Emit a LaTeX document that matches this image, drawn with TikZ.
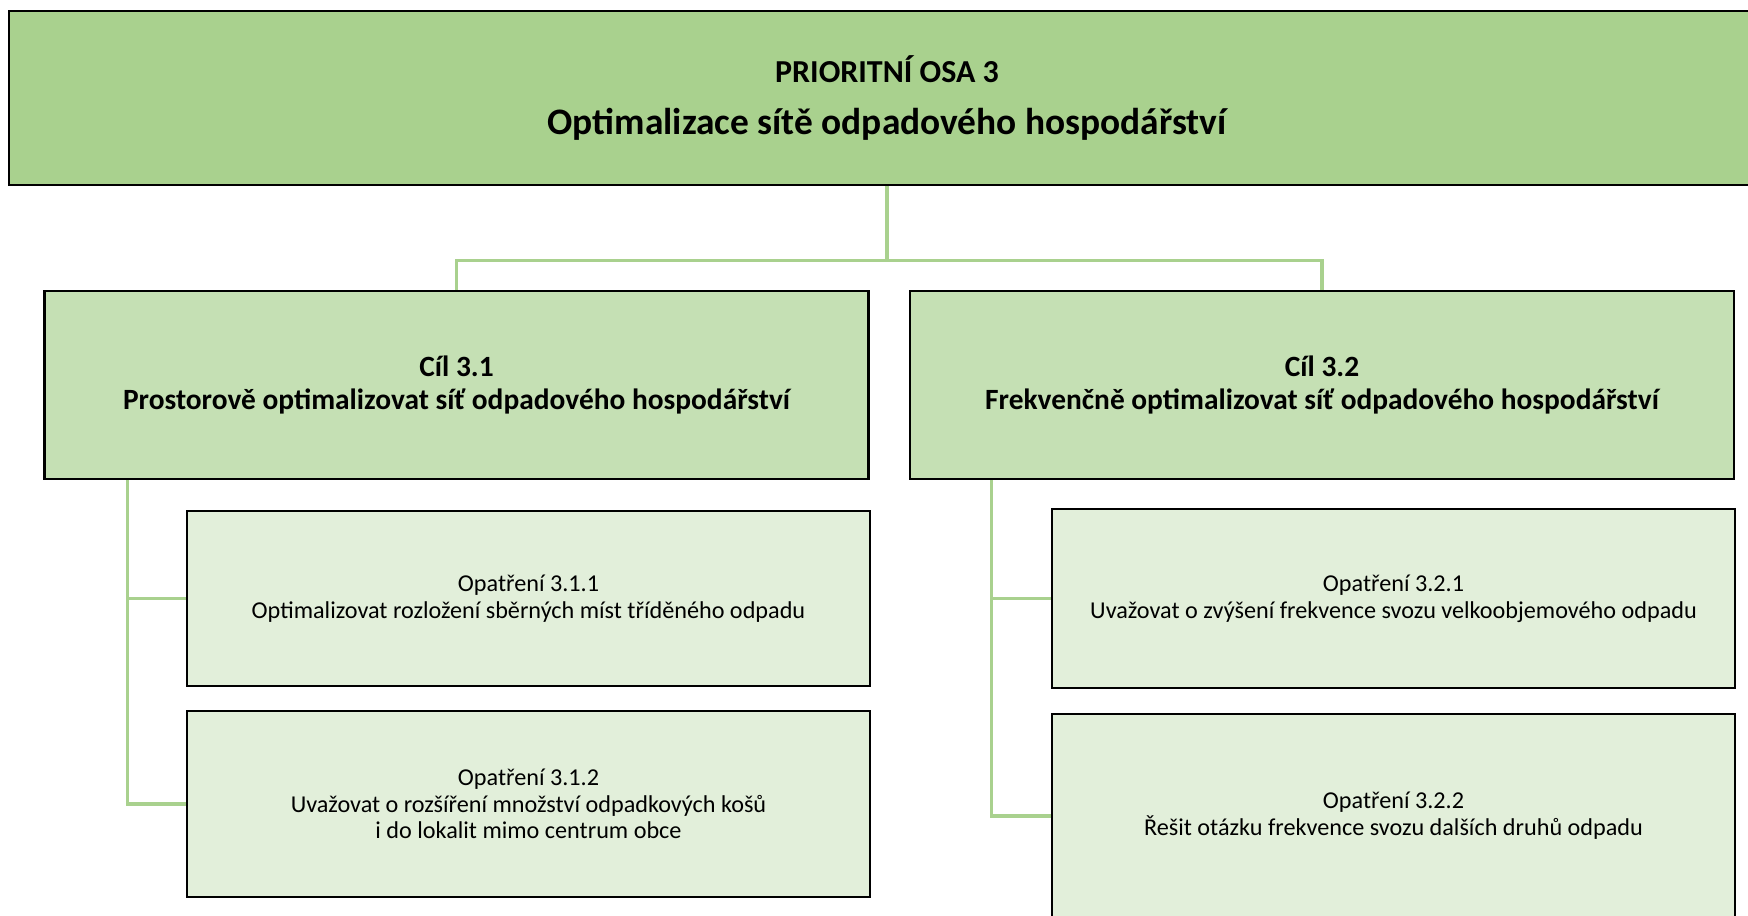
\documentclass[tikz,border=0pt]{standalone}
\usepackage{fontspec}
\setmainfont{Carlito}
\usepackage{xcolor}
\usepackage{tikz}
\usetikzlibrary{positioning}

\definecolor{osagreen}{HTML}{A9D18E}
\definecolor{cilgreen}{HTML}{C5E0B4}
\definecolor{opgreen}{HTML}{E2EFDA}

\begin{document}
\begin{tikzpicture}[
  x=0.5pt, y=-0.5pt,
  frame/.style={rectangle, draw=black, line width=1.4pt, align=center, inner sep=2pt},
  osabox/.style={frame, fill=osagreen, minimum width=878pt, minimum height=87pt, font=\bfseries},
  cilbox/.style={frame, fill=cilgreen, minimum width=412pt, minimum height=94pt, font=\bfseries\fontsize{14.7}{16.7}\selectfont},
  opbox/.style={frame, fill=opgreen, minimum width=341.5pt, font=\fontsize{12.1}{13.4}\selectfont},
  link/.style={draw=osagreen, line width=1.6pt}
]
\useasboundingbox (0,0) rectangle (1748,915);
\node[osabox] (osa) at (887,98) {{\fontsize{16}{19}\selectfont PRIORITNÍ OSA 3}\\[12pt]{\fontsize{18.7}{21}\selectfont Optimalizace sítě odpadového hospodářství}};
\node[cilbox] (c1) at (456.5,385) {Cíl 3.1\\Prostorově optimalizovat síť odpadového hospodářství};
\node[cilbox] (c2) at (1322,385) {Cíl 3.2\\Frekvenčně optimalizovat síť odpadového hospodářství};
\node[opbox, minimum height=87.5pt] (m11) at (528.5,598.5) {Opatření 3.1.1\\Optimalizovat rozložení sběrných míst tříděného odpadu};
\node[opbox, minimum height=93pt] (m12) at (528.5,804) {Opatření 3.1.2\\Uvažovat o rozšíření množství odpadkových košů\\i do lokalit mimo centrum obce};
\node[opbox, minimum height=89.5pt] (m21) at (1393.5,598.5) {Opatření 3.2.1\\Uvažovat o zvýšení frekvence svozu velkoobjemového odpadu};
\node[opbox, minimum height=102pt] (m22) at (1393.5,816) {Opatření 3.2.2\\Řešit otázku frekvence svozu dalších druhů odpadu};
\draw[link] (osa.south) -- ++(0,74) -| (c1.north);
\draw[link] (osa.south) ++(0,74) -| (c2.north);
\draw[link] ([xshift=42pt]c1.south west) |- (m11.west);
\draw[link] ([xshift=42pt]c1.south west) |- (m12.west);
\draw[link] ([xshift=41.5pt]c2.south west) |- (m21.west);
\draw[link] ([xshift=41.5pt]c2.south west) |- (m22.west);
\end{tikzpicture}
\end{document}
